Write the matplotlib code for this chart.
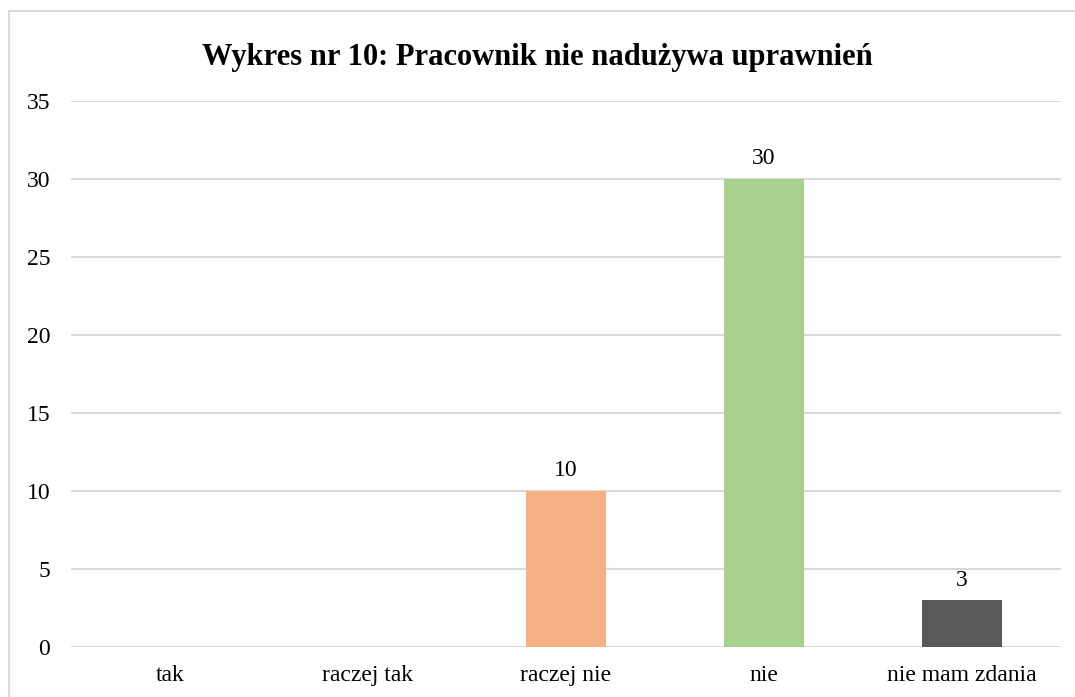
import matplotlib.pyplot as plt
from matplotlib.patches import Rectangle

categories = ['tak', 'raczej tak', 'raczej nie', 'nie', 'nie mam zdania']
values = [0, 0, 10, 30, 3]
colors = ['#5B9BD5', '#ED7D31', '#F4B183', '#A9D18E', '#595959']
title = 'Wykres nr 10: Pracownik nie nadużywa uprawnień'

plt.rcParams['font.family'] = ['Liberation Serif', 'DejaVu Serif']

fig = plt.figure(figsize=(10.75, 6.97), dpi=100)
ax = fig.add_axes([0.066, 0.0717, 0.921, 0.7834])

x = range(len(categories))
bars = ax.bar(x, values, width=0.404, color=colors, zorder=3)
for b, v in zip(bars, values):
    if v > 0:
        ax.annotate(str(v), (b.get_x() + b.get_width() / 2, v),
                    xytext=(0, 7), textcoords='offset points',
                    ha='center', va='bottom', fontsize=17)

ax.set_xlim(-0.5, len(categories) - 0.5)
ax.set_ylim(0, 35)
ax.set_yticks(range(0, 36, 5))
ax.set_xticks(list(x))
ax.set_xticklabels(categories)
ax.tick_params(axis='both', length=0, labelsize=17)
ax.tick_params(axis='y', pad=15)
ax.tick_params(axis='x', pad=13)
ax.grid(axis='y', color='#D9D9D9', linewidth=1.5, zorder=0)
for s in ax.spines.values():
    s.set_visible(False)

fig.text(0.5, 0.918, title, ha='center', va='center', fontsize=22, fontweight='bold')

fig.patches.append(Rectangle((9 / 1075, -0.1), 1.2, 1 - 11 / 697 + 0.1,
                             transform=fig.transFigure, fill=False,
                             edgecolor='#D9D9D9', linewidth=1.5))

fig.savefig('out.png', dpi=100)
